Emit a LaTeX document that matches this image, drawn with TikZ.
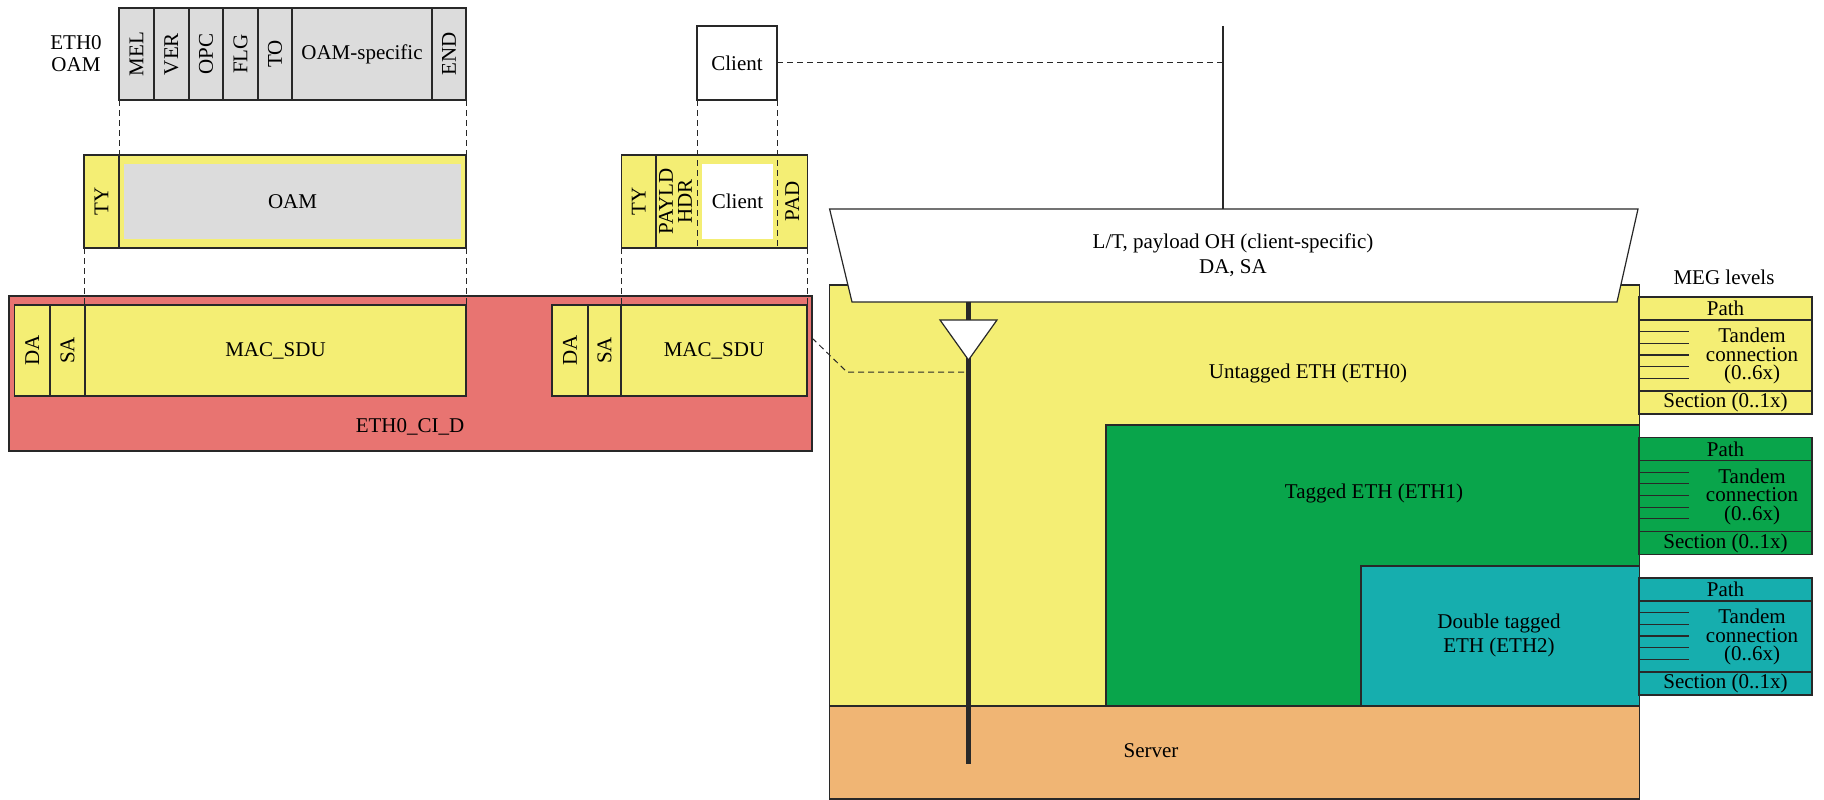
\documentclass[tikz,border=0pt]{standalone}
\usepackage{fontspec}
\setmainfont{Liberation Serif}
\usepackage{xcolor}
\usepackage{tikz}

\definecolor{ethyellow}{RGB}{244,238,116}
\definecolor{oamgray}{RGB}{220,220,220}
\definecolor{cired}{RGB}{232,116,113}
\definecolor{ethgreen}{RGB}{9,165,75}
\definecolor{ethteal}{RGB}{22,174,174}
\definecolor{servorange}{RGB}{240,181,116}
\definecolor{edge}{RGB}{40,40,40}

\tikzset{
  cell/.style={draw=edge, line width=1.2pt, anchor=north west, inner sep=0pt, outer sep=0pt},
  conn/.style={draw=edge, line width=1pt, dash pattern=on 6pt off 4pt},
  tick/.style={draw=edge, line width=1.1pt}
}

\begin{document}
\begin{tikzpicture}[x=1pt,y=-1pt,font=\fontsize{21}{24}\selectfont]
\useasboundingbox (0,0) rectangle (1824,800);

% ETH0 OAM header
\node[align=center, font=\fontsize{21}{22}\selectfont] (oamname) at (76,54) {ETH0\\OAM};
\foreach \x/\w/\t/\n in {119/35/MEL/mel,154/35/VER/ver,189/34/OPC/opc,223/35/FLG/flg,258/34/TO/to,432/34/END/end}
  {\node[cell, fill=oamgray, minimum width=\w, minimum height=92] (\n) at (\x,8) {\rotatebox{90}{\t}};}
\node[cell, fill=oamgray, minimum width=140, minimum height=92] (oamspec) at (292,8) {OAM-specific};

% TY + OAM
\node[cell, fill=ethyellow, minimum width=35, minimum height=93] (ty1) at (84,155) {\rotatebox{90}{TY}};
\node[cell, fill=ethyellow, minimum width=347, minimum height=93] (oamf) at (119,155) {};
\node[fill=oamgray, inner sep=0pt, minimum width=337, minimum height=75] (oamin) at (oamf.center) {OAM};

% client
\node[cell, fill=white, minimum width=80, minimum height=74] (client) at (697,26) {Client};
\node[cell, fill=ethyellow, minimum width=186, minimum height=93] (cfr) at (621.5,155) {};
\node[cell, minimum width=34.5, minimum height=93] (ty2) at (621.5,155) {\rotatebox{90}{TY}};
\node[cell, draw=none, minimum width=41, minimum height=93] (payld) at (656,155)
  {\rotatebox{90}{\begin{tabular}{@{}c@{}}PAYLD\\[-5pt]HDR\end{tabular}}};
\node[fill=white, inner sep=0pt, minimum width=71, minimum height=75] (clientin) at (737.5,201.5) {Client};
\node[cell, draw=none, minimum width=30.5, minimum height=93] (pad) at (777,155) {\rotatebox{90}{PAD}};

% ETH0_CI_D
\node[cell, fill=cired, minimum width=803, minimum height=155] (ci) at (9,296) {};
\node (cilabel) at (410,427) {ETH0\_CI\_D};
\node[cell, fill=ethyellow, minimum width=35.5, minimum height=91] (da1) at (14.5,305) {\rotatebox{90}{DA}};
\node[cell, fill=ethyellow, minimum width=35, minimum height=91] (sa1) at (50,305) {\rotatebox{90}{SA}};
\node[cell, fill=ethyellow, minimum width=381, minimum height=91] (sdu1) at (85,305) {MAC\_SDU};
\node[cell, fill=ethyellow, minimum width=36, minimum height=91] (da2) at (552,305) {\rotatebox{90}{DA}};
\node[cell, fill=ethyellow, minimum width=33, minimum height=91] (sa2) at (588,305) {\rotatebox{90}{SA}};
\node[cell, fill=ethyellow, minimum width=186, minimum height=91] (sdu2) at (621,305) {MAC\_SDU};

\draw[conn] (mel.south west) -- (oamf.north west);
\draw[conn] (end.south east) -- (oamf.north east);
\draw[conn] (ty1.south west) -- (ty1.south west |- sdu1.north);
\draw[conn] (oamf.south east) -- (oamf.south east |- sdu1.north);
\draw[conn] (ty2.south west) -- (ty2.south west |- sdu2.north);
\draw[conn] (cfr.south east) -- (cfr.south east |- sdu2.north);
\draw[conn] (client.south west) -- (client.south west |- cfr.south);
\draw[conn] (client.south east) -- (client.south east |- cfr.south);

% layer stack
\node[cell, fill=ethyellow, minimum width=810, minimum height=421] (eth0) at (829.6,285) {};
\node[cell, fill=ethgreen, minimum width=533.5, minimum height=281] (eth1) at (1106,425) {};
\node[cell, fill=ethteal, minimum width=278.5, minimum height=140] (eth2) at (1361,566) {};
\node[cell, fill=servorange, minimum width=810, minimum height=93] (server) at (829.6,706) {};
\node (eth0txt) at (1308,373) {Untagged ETH (ETH0)};
\node (eth1txt) at (1374,493) {Tagged ETH (ETH1)};
\node[align=center] (eth2txt) at (1499,635) {Double tagged\\ETH (ETH2)};
\node (servertxt) at (1151,751) {Server};

% adaptation
\coordinate (vtop) at (1223,26);
\coordinate (adtop) at (1223,209);
\draw[draw=edge, line width=1.2pt, fill=white] (829.6,209) -- (1638,209) -- (1617,302) -- (852,302) -- cycle;
\node[align=center, font=\fontsize{21}{25}\selectfont] (ltoh) at (1233,255.5) {L/T, payload OH (client-specific)\\DA, SA};
\draw[tick] (vtop) -- (adtop);
\draw[conn] (client.east) -- (client.east -| vtop);

\coordinate (tap) at (968.5,372);
\draw[edge, line width=5pt] (968.5,302) -- (968.5,764);
\draw[draw=edge, line width=1.2pt, fill=white] (940,320) -- (997,320) -- (968.5,360) -- cycle;
\draw[conn] (ci.east |- 0,338) -- (847,372) -- (tap);

% MEG levels
\node (meg) at (1724,277) {MEG levels};
\foreach \i/\c in {0/ethyellow,1/ethgreen,2/ethteal} {
  \pgfmathsetmacro\T{297+140.5*\i}
  \node[cell, fill=\c, minimum width=173, minimum height=23] (path\i) at (1639,\T) {Path};
  \node[cell, fill=\c, minimum width=173, minimum height=71] (tandem\i) at (1639,\T+23) {};
  \node[cell, fill=\c, minimum width=173, minimum height=23] (section\i) at (1639,\T+94) {Section (0..1x)};
  \node[align=center, font=\fontsize{21}{18.5}\selectfont] (tct\i) at (1752,\T+59) {Tandem\\connection\\(0..6x)};
  \foreach \k in {0,...,4} {\draw[tick] (1639,\T+34.7+11.65*\k) -- ++(50,0);}
}
\end{tikzpicture}
\end{document}
